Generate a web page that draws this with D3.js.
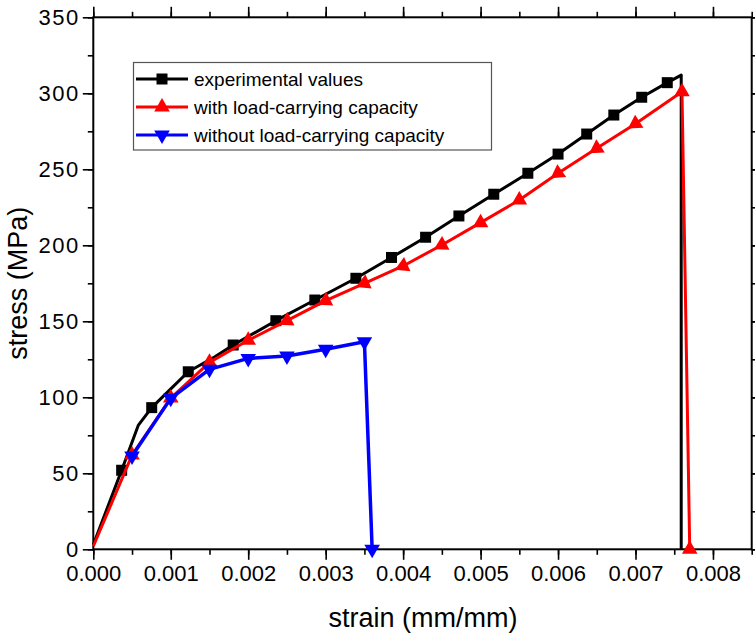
<!DOCTYPE html>
<html>
<head>
<meta charset="utf-8">
<script src="https://cdn.jsdelivr.net/npm/d3@7"></script>
<style>
html,body{margin:0;padding:0;background:#fff;}
svg{display:block;}
text{font-family:"Liberation Sans",Arial,sans-serif;fill:#000;}
</style>
</head>
<body>
<svg id="chart" width="755" height="634"></svg>
<script>
// ---- data ----
const expStrain = [0.0, 0.000366, 0.00058, 0.000754, 0.00103, 0.001226, 0.00157, 0.001806, 0.002357, 0.00286, 0.00339, 0.00385, 0.00429, 0.00472, 0.00517, 0.00561, 0.00600, 0.00637, 0.00672, 0.00708, 0.00741, 0.00759, 0.00759];
const expStress = [3, 52, 81.5, 93.2, 107, 116.8, 126.7, 134.4, 150.4, 164, 178.3, 192, 205.3, 219.3, 233.6, 247.4, 260, 273.2, 285.7, 297.4, 307, 312, 0];
const expMarkerIdx = [1, 3, 5, 7, 8, 9, 10, 11, 12, 13, 14, 15, 16, 17, 18, 19, 20];

const withStrain = [0.0, 0.0005, 0.001, 0.0015, 0.002, 0.0025, 0.003, 0.0035, 0.004, 0.0045, 0.005, 0.0055, 0.006, 0.0065, 0.007, 0.0076, 0.0077];
const withStress = [2, 62, 99.5, 123, 137.5, 150.4, 163.6, 175, 186.4, 200.2, 214.9, 229.8, 247.4, 263.8, 280, 301, 0];

const withoutStrain = [0.0005, 0.001, 0.0015, 0.002, 0.0025, 0.003, 0.0035, 0.0036];
const withoutStress = [61.4, 99.3, 118.4, 125.6, 127.2, 131.6, 136.6, 0];

const seriesNames = ["experimental values", "with load-carrying capacity", "without load-carrying capacity"];
const seriesColors = ["#000000", "#ff0000", "#0000ff"];

const xTicks = [0, 0.001, 0.002, 0.003, 0.004, 0.005, 0.006, 0.007, 0.008];
const yTicks = [0, 50, 100, 150, 200, 250, 300, 350];

// ---- layout ----
const svg = d3.select("#chart");
const L = 93.3, R = 751.7, T = 17.3, B = 549.3;
const x = d3.scaleLinear().domain([0, 0.0085]).range([L, R]);
const y = d3.scaleLinear().domain([0, 350]).range([B, T]);

const xMinor = d3.range(0, 0.0085 + 1e-9, 0.0005);
const yMinor = d3.range(0, 350 + 1e-9, 25);

function styleAxis(g) {
  g.select(".domain").remove();
  g.selectAll(".tick line").attr("stroke", "#000").attr("stroke-width", 1.6);
  g.selectAll("text").style("font-size", "22px").style("font-family", '"Liberation Sans",Arial,sans-serif');
}

// minor ticks
function minor(axisGen, scale, vals, tr) {
  const g = svg.append("g").attr("transform", tr)
    .call(axisGen(scale).tickValues(vals).tickSize(5.5).tickFormat(""));
  styleAxis(g);
}
minor(d3.axisBottom, x, xMinor, `translate(0,${B})`);
minor(d3.axisTop, x, xMinor, `translate(0,${T})`);
minor(d3.axisLeft, y, yMinor, `translate(${L},0)`);
minor(d3.axisRight, y, yMinor, `translate(${R},0)`);

// major ticks
const gxb = svg.append("g").attr("transform", `translate(0,${B})`)
  .call(d3.axisBottom(x).tickValues(xTicks).tickSize(10.5).tickPadding(6).tickFormat(d3.format(".3f")));
styleAxis(gxb);
const gxt = svg.append("g").attr("transform", `translate(0,${T})`)
  .call(d3.axisTop(x).tickValues(xTicks).tickSize(10.5).tickFormat(""));
styleAxis(gxt);
const gyl = svg.append("g").attr("transform", `translate(${L},0)`)
  .call(d3.axisLeft(y).tickValues(yTicks).tickSize(10.5).tickPadding(3).tickFormat(d3.format("d")));
styleAxis(gyl);
gyl.selectAll("text").style("font-size", "22px").style("letter-spacing", "1.5px");
const gyr = svg.append("g").attr("transform", `translate(${R},0)`)
  .call(d3.axisRight(y).tickValues(yTicks).tickSize(10.5).tickFormat(""));
styleAxis(gyr);

// frame
svg.append("rect").attr("x", L).attr("y", T).attr("width", R - L).attr("height", B - T)
  .attr("fill", "none").attr("stroke", "#000").attr("stroke-width", 2);

// axis titles
svg.append("text").attr("x", 423).attr("y", 627).attr("text-anchor", "middle")
  .style("font-size", "27px").text("strain (mm/mm)");
svg.append("text").attr("transform", `translate(27,${(T + B) / 2}) rotate(-90)`)
  .attr("text-anchor", "middle").style("font-size", "27px").text("stress (MPa)");

// ---- series ----
const line = d3.line().x(d => x(d[0])).y(d => y(d[1]));
const plot = svg.append("g");

const sqSym = d3.symbol().type(d3.symbolSquare).size(121);
const triUp = d3.symbol().type(d3.symbolTriangle).size(105);

// experimental
const expPts = expStrain.map((s, i) => [s, expStress[i]]);
plot.append("path").datum(expPts).attr("d", line).attr("fill", "none")
  .attr("stroke", seriesColors[0]).attr("stroke-width", 3).attr("stroke-linejoin", "round");
plot.selectAll(".sq").data(expMarkerIdx.map(i => expPts[i])).enter().append("path")
  .attr("d", sqSym).attr("transform", d => `translate(${x(d[0])},${y(d[1])})`)
  .attr("fill", seriesColors[0]);

// with load-carrying capacity
const withPts = withStrain.map((s, i) => [s, withStress[i]]);
plot.append("path").datum(withPts).attr("d", line).attr("fill", "none")
  .attr("stroke", seriesColors[1]).attr("stroke-width", 3).attr("stroke-linejoin", "round");
plot.selectAll(".tri").data(withPts.slice(1)).enter().append("path")
  .attr("d", triUp)
  .attr("transform", (d, k) => {
    const i = k + 1;
    let rot = 0;
    if (d[0] >= 0.0019 && d[0] <= 0.0071) {
      const p = withPts[i - 1];
      const ang = Math.atan2(y(p[1]) - y(d[1]), x(p[0]) - x(d[0])) * 180 / Math.PI;
      rot = ang + 90; // tip toward previous point
    }
    return `translate(${x(d[0])},${y(d[1])}) rotate(${rot})`;
  })
  .attr("fill", seriesColors[1]);

// without load-carrying capacity
const woPts = withoutStrain.map((s, i) => [s, withoutStress[i]]);
plot.append("path").datum(woPts).attr("d", line).attr("fill", "none")
  .attr("stroke", seriesColors[2]).attr("stroke-width", 3.5).attr("stroke-linejoin", "round");
plot.selectAll(".tri2").data(woPts).enter().append("path")
  .attr("d", triUp).attr("transform", d => `translate(${x(d[0])},${y(d[1])}) rotate(180)`)
  .attr("fill", seriesColors[2]);

// ---- legend ----
const lg = svg.append("g");
lg.append("rect").attr("x", 133.5).attr("y", 62.5).attr("width", 358).attr("height", 87.5)
  .attr("fill", "#fff").attr("stroke", "#555").attr("stroke-width", 1.2);
const rowsY = [79, 107, 135];
seriesNames.forEach((name, i) => {
  const yy = rowsY[i];
  lg.append("line").attr("x1", 136).attr("x2", 188).attr("y1", yy).attr("y2", yy)
    .attr("stroke", seriesColors[i]).attr("stroke-width", 3);
  const sym = i === 0 ? sqSym : triUp;
  lg.append("path").attr("d", sym)
    .attr("transform", `translate(162,${yy}) rotate(${i === 2 ? 180 : 0})`)
    .attr("fill", seriesColors[i]);
  lg.append("text").attr("x", 194).attr("y", yy + 7).style("font-size", "19px").text(name);
});
</script>
</body>
</html>
